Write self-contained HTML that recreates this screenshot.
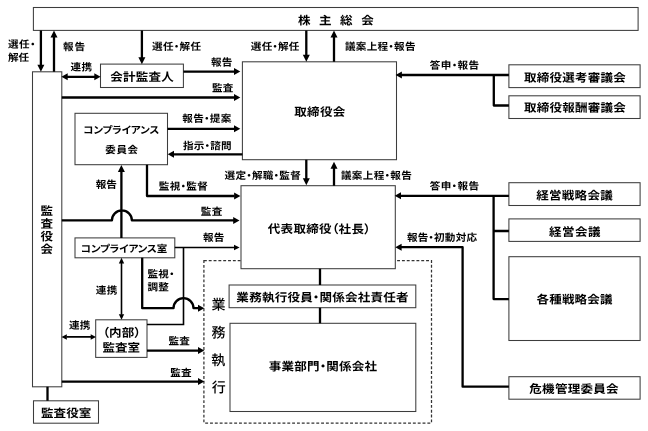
<!DOCTYPE html>
<html lang="ja">
<head>
<meta charset="utf-8">
<title>コーポレート・ガバナンス体制図</title>
<style>
html,body{margin:0;padding:0;background:#fff;}
body{width:648px;height:431px;overflow:hidden;}
svg{display:block;will-change:transform;}
text{font-family:"Liberation Sans","Noto Sans CJK JP",sans-serif;font-weight:700;fill:#000;font-feature-settings:"palt" 1;}
.bx{fill:#fff;stroke:#3d3d3d;stroke-width:1.05;}
.ln{fill:none;stroke:#000;stroke-width:2.3;stroke-linejoin:round;}
.tn{fill:none;stroke:#000;stroke-width:1.6;}
.ds{fill:none;stroke:#333;stroke-width:1.25;stroke-dasharray:2.9 1.93;}
.hd{fill:#000;stroke:none;}
.w400{font-weight:400;}
.w500{font-weight:500;}
</style>
</head>
<body>

<svg width="648" height="431" viewBox="0 0 648 431">
<rect x="0" y="0" width="648" height="431" fill="#fff"/>
<rect class="ds" x="203.9" y="260.6" width="227.6" height="162.4"/>
<rect class="bx" x="33.4" y="7.5" width="604.7" height="22.9"/>
<rect class="bx" x="32.5" y="71.8" width="29.3" height="315"/>
<rect class="bx" x="100.5" y="64.1" width="82.9" height="23.4"/>
<rect class="bx" x="242.4" y="61.8" width="154.1" height="97.9"/>
<rect class="bx" x="75" y="113.3" width="92.5" height="51.4"/>
<rect class="bx" x="241" y="185.7" width="154.3" height="83"/>
<rect class="bx" x="75" y="237.9" width="99.8" height="19.9"/>
<rect class="bx" x="95.7" y="319.8" width="51.3" height="37.6"/>
<rect class="bx" x="33.5" y="400.8" width="65" height="22.4"/>
<rect class="bx" x="229.1" y="285" width="186.7" height="22.7"/>
<rect class="bx" x="230" y="323.3" width="185.8" height="88.2"/>
<rect class="bx" x="508.9" y="64.8" width="131.2" height="22.8"/>
<rect class="bx" x="508.9" y="95.8" width="131.2" height="22.7"/>
<rect class="bx" x="508.9" y="182.7" width="131.2" height="22.8"/>
<rect class="bx" x="508.9" y="218.9" width="131.2" height="22.5"/>
<rect class="bx" x="508.9" y="256.7" width="131.2" height="83.8"/>
<rect class="bx" x="508.9" y="376.7" width="131.2" height="22.5"/>
<path class="ln" d="M40.9 30.4V66.8M54 71.8V35.4M66.4 76.8H95.6M141.9 30.4V59.2M183.4 71.6H235.3M61.8 97.5H235.3M306.3 30.4V56.8M334 61.8V35.4M508.9 75H400.6M493.8 75V105.5H508.9M167.5 128.8H235.3M242.4 154.3H172.7M306.3 159.7V180.2M334 185.7V166.8M147 164.7V196H234.5M121.4 237.9V169.9M61.8 220.4H111.9A10 10 0 0 1 131.9 220.4H234M142.2 257.8V308.2H173.5A10 10 0 0 1 193.5 308.2H198M147 350.6H199.3M61.8 381.6H199.3M47.5 386.8V400.8M320 268.7V285M320 307.7V323.3M508.9 195.8H399.7M493.6 195.8V299.1H508.9M493.6 231H508.9M400 247.2H462.6V386.7H508.9"/>
<path class="tn" d="M174.8 247.5H235M183.5 247.5V324.5H147M121.5 262.8V314.8M66.5 336.9H91"/>
<g class="hd"><polygon points="40.90,71.80 37.40,64.80 44.40,64.80"/><polygon points="54.00,30.40 50.50,37.40 57.50,37.40"/><polygon points="61.40,76.80 67.70,73.30 67.70,80.30"/><polygon points="100.60,76.80 94.30,73.30 94.30,80.30"/><polygon points="141.90,64.20 138.40,57.20 145.40,57.20"/><polygon points="240.30,71.60 234.00,68.10 234.00,75.10"/><polygon points="240.30,97.50 234.00,94.00 234.00,101.00"/><polygon points="306.30,61.80 302.80,54.80 309.80,54.80"/><polygon points="334.00,30.40 330.50,37.40 337.50,37.40"/><polygon points="395.60,75.00 401.90,71.50 401.90,78.50"/><polygon points="240.30,128.80 234.00,125.30 234.00,132.30"/><polygon points="167.70,154.30 174.00,150.80 174.00,157.80"/><polygon points="306.30,185.20 302.80,178.20 309.80,178.20"/><polygon points="334.00,161.80 330.50,168.80 337.50,168.80"/><polygon points="240.40,196.00 234.10,192.50 234.10,199.50"/><polygon points="121.40,164.90 117.90,171.90 124.90,171.90"/><polygon points="239.50,220.40 233.20,216.90 233.20,223.90"/><polygon points="239.60,247.50 234.00,244.80 234.00,250.20"/><polygon points="121.50,257.80 118.80,263.40 124.20,263.40"/><polygon points="121.50,319.80 118.80,314.20 124.20,314.20"/><polygon points="204.30,308.20 198.00,304.70 198.00,311.70"/><polygon points="61.50,336.90 66.80,334.15 66.80,339.65"/><polygon points="96.00,336.90 90.70,334.15 90.70,339.65"/><polygon points="204.30,350.60 198.00,347.10 198.00,354.10"/><polygon points="204.30,381.60 198.00,378.10 198.00,385.10"/><polygon points="394.70,195.80 401.00,192.30 401.00,199.30"/><polygon points="395.30,247.20 401.60,243.70 401.60,250.70"/></g>
<text transform="translate(7.91 47.66) rotate(0.03) scale(1.06 1)" font-size="10.00" textLength="25.90" lengthAdjust="spacing">選任・</text>
<text transform="translate(7.99 60.98) rotate(0.03) scale(1.06 1)" font-size="10.00" textLength="19.99" lengthAdjust="spacing">解任</text>
<text transform="translate(63.05 50.36) rotate(0.03) scale(1.06 1)" font-size="10.00" textLength="20.85" lengthAdjust="spacing">報告</text>
<text transform="translate(70.45 70.48) rotate(0.03) scale(1.06 1)" font-size="10.00" textLength="20.32" lengthAdjust="spacing">連携</text>
<text transform="translate(152.03 50.07) rotate(0.03) scale(1.06 1)" font-size="10.00" textLength="46.29" lengthAdjust="spacing">選任・解任</text>
<text transform="translate(250.85 50.03) rotate(0.03) scale(1.06 1)" font-size="10.00" textLength="45.84" lengthAdjust="spacing">選任・解任</text>
<text transform="translate(211.07 65.77) rotate(0.03) scale(1.06 1)" font-size="10.00" textLength="19.99" lengthAdjust="spacing">報告</text>
<text transform="translate(212.00 91.40) rotate(0.03) scale(1.06 1)" font-size="10.00" textLength="20.23" lengthAdjust="spacing">監査</text>
<text transform="translate(344.97 50.07) rotate(0.03) scale(1.06 1)" font-size="10.00" textLength="66.57" lengthAdjust="spacing">議案上程・報告</text>
<text transform="translate(429.78 68.81) rotate(0.03) scale(1.06 1)" font-size="10.00" textLength="46.56" lengthAdjust="spacing">答申・報告</text>
<text transform="translate(182.27 121.91) rotate(0.03) scale(1.06 1)" font-size="10.00" textLength="46.27" lengthAdjust="spacing">報告・提案</text>
<text transform="translate(182.99 149.25) rotate(0.03) scale(1.06 1)" font-size="10.00" textLength="45.94" lengthAdjust="spacing">指示・諮問</text>
<text transform="translate(224.51 178.91) rotate(0.03) scale(1.06 1)" font-size="10.00" textLength="71.95" lengthAdjust="spacing">選定・解職・監督</text>
<text transform="translate(158.76 189.72) rotate(0.03) scale(1.06 1)" font-size="10.00" textLength="46.32" lengthAdjust="spacing">監視・監督</text>
<text transform="translate(200.64 215.07) rotate(0.03) scale(1.06 1)" font-size="10.00" textLength="20.42" lengthAdjust="spacing">監査</text>
<text transform="translate(95.84 188.10) rotate(0.03) scale(1.06 1)" font-size="10.00" textLength="19.88" lengthAdjust="spacing">報告</text>
<text transform="translate(340.96 179.03) rotate(0.03) scale(1.06 1)" font-size="10.00" textLength="66.83" lengthAdjust="spacing">議案上程・報告</text>
<text transform="translate(429.68 189.56) rotate(0.03) scale(1.06 1)" font-size="10.00" textLength="46.56" lengthAdjust="spacing">答申・報告</text>
<text transform="translate(203.12 240.89) rotate(0.03) scale(1.06 1)" font-size="10.00" textLength="20.13" lengthAdjust="spacing">報告</text>
<text transform="translate(147.55 277.41) rotate(0.03) scale(1.06 1)" font-size="10.00" textLength="25.28" lengthAdjust="spacing">監視・</text>
<text transform="translate(147.44 290.61) rotate(0.03) scale(1.06 1)" font-size="10.00" textLength="20.29" lengthAdjust="spacing">調整</text>
<text transform="translate(95.74 293.76) rotate(0.03) scale(1.06 1)" font-size="10.00" textLength="20.39" lengthAdjust="spacing">連携</text>
<text transform="translate(68.98 328.75) rotate(0.03) scale(1.06 1)" font-size="10.00" textLength="20.25" lengthAdjust="spacing">連携</text>
<text transform="translate(168.54 344.61) rotate(0.03) scale(1.06 1)" font-size="10.00" textLength="19.99" lengthAdjust="spacing">監査</text>
<text transform="translate(170.18 376.36) rotate(0.03) scale(1.06 1)" font-size="10.00" textLength="20.25" lengthAdjust="spacing">監査</text>
<text transform="translate(406.92 241.07) rotate(0.03) scale(1.06 1)" font-size="10.00" textLength="66.18" lengthAdjust="spacing">報告・初動対応</text>
<text transform="translate(211.53 309.38) rotate(0.03)" font-size="14.00" class="w500">業</text>
<text transform="translate(211.53 337.44) rotate(0.03)" font-size="14.00" class="w500">務</text>
<text transform="translate(211.32 364.97) rotate(0.03)" font-size="14.00" class="w500">執</text>
<text transform="translate(211.70 392.29) rotate(0.03)" font-size="14.00" class="w500">行</text>
<text transform="translate(297.93 24.51) rotate(0.03) scale(1.08 1)" font-size="11.60" textLength="70.22" lengthAdjust="spacing">株 主 総 会</text>
<text transform="translate(40.50 215.11) rotate(0.03) scale(1.08 1)" font-size="11.60">監</text>
<text transform="translate(40.50 227.85) rotate(0.03) scale(1.08 1)" font-size="11.60">査</text>
<text transform="translate(40.57 240.50) rotate(0.03) scale(1.08 1)" font-size="11.60">役</text>
<text transform="translate(40.43 253.28) rotate(0.03) scale(1.08 1)" font-size="11.60">会</text>
<text transform="translate(110.27 81.05) rotate(0.03) scale(1.08 1)" font-size="11.60" textLength="58.73" lengthAdjust="spacing">会計監査人</text>
<text transform="translate(294.26 116.00) rotate(0.03) scale(1.08 1)" font-size="11.60" textLength="47.28" lengthAdjust="spacing">取締役会</text>
<text transform="translate(83.23 133.45) rotate(0.03) scale(1.05 1)" font-size="10.00" textLength="72.54" lengthAdjust="spacing">コンプライアンス</text>
<text transform="translate(105.37 153.27) rotate(0.03) scale(1.05 1)" font-size="10.00" textLength="31.16" lengthAdjust="spacing">委員会</text>
<text transform="translate(267.67 233.09) rotate(0.03) scale(1.08 1)" font-size="11.60" textLength="95.26" lengthAdjust="spacing">代表取締役（社長）</text>
<text transform="translate(80.76 252.20) rotate(0.03) scale(1.05 1)" font-size="10.00" textLength="82.47" lengthAdjust="spacing">コンプライアンス室</text>
<text transform="translate(102.60 336.69) rotate(0.03) scale(1.08 1)" font-size="11.60" textLength="35.33" lengthAdjust="spacing">（内部）</text>
<text transform="translate(102.51 351.79) rotate(0.03) scale(1.08 1)" font-size="11.60" textLength="34.78" lengthAdjust="spacing">監査室</text>
<text transform="translate(40.88 417.21) rotate(0.03) scale(1.08 1)" font-size="11.60" textLength="46.74" lengthAdjust="spacing">監査役室</text>
<text transform="translate(236.37 301.49) rotate(0.03) scale(1.08 1)" font-size="11.60" textLength="159.49" lengthAdjust="spacing">業務執行役員・関係会社責任者</text>
<text transform="translate(268.87 370.40) rotate(0.03) scale(1.08 1)" font-size="11.60" textLength="100.27" lengthAdjust="spacing">事業部門・関係会社</text>
<text transform="translate(524.10 81.80) rotate(0.03) scale(1.08 1)" font-size="11.60" textLength="94.07" lengthAdjust="spacing">取締役選考審議会</text>
<text transform="translate(524.10 111.80) rotate(0.03) scale(1.08 1)" font-size="11.60" textLength="94.07" lengthAdjust="spacing">取締役報酬審議会</text>
<text transform="translate(536.16 199.55) rotate(0.03) scale(1.08 1)" font-size="11.60" textLength="70.95" lengthAdjust="spacing">経営戦略会議</text>
<text transform="translate(548.95 236.05) rotate(0.03) scale(1.08 1)" font-size="11.60" textLength="47.67" lengthAdjust="spacing">経営会議</text>
<text transform="translate(536.48 303.59) rotate(0.03) scale(1.08 1)" font-size="11.60" textLength="70.46" lengthAdjust="spacing">各種戦略会議</text>
<text transform="translate(529.36 393.05) rotate(0.03) scale(1.08 1)" font-size="11.60" textLength="82.57" lengthAdjust="spacing">危機管理委員会</text>
</svg>
</body>
</html>
